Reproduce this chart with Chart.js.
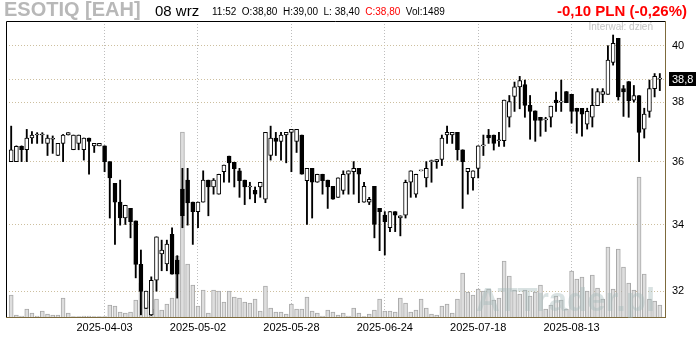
<!DOCTYPE html>
<html>
<head>
<meta charset="utf-8">
<script src="https://cdn.jsdelivr.net/npm/chart.js@4"></script>
<style>
  body { margin: 0; background: #fff; }
  #wrap { position: relative; width: 700px; height: 340px; overflow: hidden; font-family: 'Liberation Sans', Arial, sans-serif; }
  #chart { position: absolute; left: 0; top: 0; z-index: 1; }
  .txt { position: absolute; white-space: nowrap; z-index: 3; }
  #mark { position: absolute; left: 476px; top: 281px; font: bold 33px 'Liberation Sans', Arial, sans-serif; color: rgba(165, 185, 185, 0.42); z-index: 2; }
</style>
</head>
<body>
<div id="wrap">
  <canvas id="chart" width="700" height="340"></canvas>
  <div id="mark">ATTrader.pl</div>
  <div class="txt" style="left:4px; top:-2px; font-weight:bold; font-size:20px; color:#b8b8b8;">ESOTIQ [EAH]</div>
  <div class="txt" style="left:155px; top:2px; font-size:15px; color:#000;">08 wrz</div>
  <div class="txt" style="left:212px; top:6px; font-size:10px; color:#000;">11:52 &nbsp;O:38,80 &nbsp;H:39,00 &nbsp;L: 38,40 &nbsp;<span style="color:#f00">C:38,80</span> &nbsp;Vol:1489</div>
  <div class="txt" style="right:13px; top:2px; font-weight:bold; font-size:15px; color:#f00;">-0,10 PLN (-0,26%)</div>
  <div class="txt" style="right:47px; top:21px; font-size:10px; color:#c4c4c4;">Interwał: dzień</div>
</div>
<script>
// daily candles, 2025-03-10 .. 2025-09-08 (index = trading day)
const open = [
  36.00, 36.00, 36.50, 36.39, 36.78, 36.88, 36.88, 36.60, 36.74, 36.20,
  36.60, 36.88, 36.39, 36.60, 36.39, 36.78, 36.52, 36.52, 36.52, 36.00,
  35.30, 34.70, 34.20, 34.50, 34.11, 32.79, 31.50, 31.32, 32.32, 33.10,
  32.80, 33.70, 32.92, 35.11, 35.40, 34.70, 34.40, 34.70, 35.40, 35.18,
  34.95, 35.67, 36.18, 35.98, 35.70, 35.40, 35.18, 35.07, 35.18, 34.79,
  36.20, 36.78, 36.67, 36.88, 36.97, 36.67, 36.88, 35.38, 35.78, 35.33,
  35.59, 35.40, 35.20, 34.85, 35.07, 35.59, 35.67, 35.78, 34.70, 34.70,
  35.20, 34.50, 34.29, 33.90, 34.40, 34.20, 34.29, 35.33, 34.95, 35.70,
  35.47, 36.00, 36.00, 36.07, 36.88, 36.88, 36.97, 36.39, 35.67, 35.47,
  35.78, 36.52, 36.88, 36.88, 36.69, 36.69, 37.48, 38.20, 38.53, 38.61,
  37.89, 37.70, 37.48, 37.39, 37.48, 38.07, 38.00, 38.37, 38.27, 37.79,
  37.79, 37.25, 37.48, 37.88, 38.27, 38.27, 39.40, 40.27, 38.47, 38.72,
  38.07, 38.23, 37.08, 37.68, 38.47, 38.80
];
const high = [
  37.18, 36.52, 36.52, 37.07, 37.00, 36.96, 36.96, 36.88, 36.85, 36.60,
  36.90, 36.96, 36.88, 36.88, 36.78, 36.78, 36.60, 36.60, 36.52, 36.00,
  35.30, 35.40, 34.60, 34.50, 34.11, 33.22, 32.00, 32.42, 33.62, 33.52,
  33.52, 33.90, 33.05, 35.78, 35.78, 34.70, 34.70, 35.70, 35.40, 35.45,
  35.59, 35.89, 36.18, 35.98, 35.78, 35.40, 35.33, 35.18, 35.33, 36.97,
  37.18, 36.97, 36.97, 36.97, 37.07, 37.07, 36.88, 35.78, 35.78, 35.59,
  35.59, 35.40, 35.20, 35.47, 35.70, 35.70, 36.00, 35.78, 35.33, 34.85,
  35.20, 34.50, 34.40, 34.40, 34.40, 34.27, 35.40, 35.70, 35.59, 35.70,
  36.00, 36.05, 36.07, 36.88, 37.18, 36.97, 36.97, 36.39, 35.78, 35.70,
  36.52, 36.88, 37.07, 36.88, 36.97, 38.07, 38.23, 38.70, 38.90, 38.77,
  38.23, 37.70, 37.48, 37.48, 37.86, 38.35, 38.77, 38.37, 38.27, 37.79,
  37.79, 37.79, 38.47, 38.47, 38.47, 40.00, 40.39, 40.27, 38.58, 38.72,
  38.58, 38.23, 37.79, 38.77, 39.00, 39.00
];
const low = [
  36.00, 36.00, 36.00, 36.00, 36.60, 36.60, 36.60, 36.20, 36.27, 36.20,
  36.00, 36.88, 36.39, 36.39, 36.05, 35.59, 36.30, 36.52, 35.67, 34.20,
  33.39, 33.98, 34.00, 33.59, 32.39, 31.32, 31.50, 31.30, 32.00, 32.60,
  32.60, 32.50, 31.80, 33.90, 33.98, 33.39, 33.90, 34.70, 34.27, 34.95,
  34.95, 35.33, 35.33, 35.18, 34.85, 34.62, 34.80, 34.68, 34.85, 34.68,
  36.05, 36.20, 36.05, 35.96, 35.67, 36.30, 35.59, 34.00, 34.20, 35.33,
  34.95, 34.50, 34.79, 34.85, 34.95, 34.95, 34.95, 34.68, 34.70, 34.62,
  33.59, 33.20, 33.07, 33.78, 33.78, 33.65, 34.20, 34.85, 34.85, 35.70,
  35.18, 35.33, 35.78, 35.87, 36.60, 36.60, 36.05, 34.50, 34.95, 35.08,
  35.47, 36.20, 36.60, 36.38, 36.50, 36.50, 37.15, 37.68, 37.77, 37.48,
  36.74, 36.67, 36.84, 37.00, 37.15, 37.68, 37.68, 37.98, 37.28, 36.94,
  36.84, 37.08, 37.15, 37.88, 37.98, 38.27, 39.30, 38.07, 37.51, 37.48,
  38.00, 36.00, 36.78, 37.48, 38.18, 38.40
];
const close = [
  36.39, 36.50, 36.39, 36.78, 36.88, 36.88, 36.88, 36.78, 36.74, 36.60,
  36.88, 36.96, 36.88, 36.88, 36.78, 36.67, 36.60, 36.60, 36.00, 35.47,
  34.70, 34.20, 34.60, 34.09, 32.79, 31.99, 32.00, 32.32, 33.62, 33.22,
  33.40, 32.50, 32.50, 34.27, 34.67, 34.40, 34.70, 35.40, 35.18, 35.40,
  35.59, 35.89, 35.96, 35.77, 35.38, 35.18, 35.18, 34.95, 35.33, 36.97,
  36.78, 36.67, 36.88, 36.97, 37.07, 37.07, 35.59, 35.78, 35.33, 35.59,
  35.38, 35.18, 34.79, 35.47, 35.59, 35.70, 35.78, 35.59, 35.20, 34.79,
  34.00, 34.40, 34.09, 34.40, 34.29, 34.27, 35.33, 35.70, 35.59, 35.70,
  35.78, 36.00, 36.07, 36.78, 36.97, 36.97, 36.39, 36.00, 35.78, 35.70,
  36.52, 36.52, 36.78, 36.60, 36.69, 38.07, 38.02, 38.53, 38.75, 37.89,
  37.68, 37.37, 37.37, 37.39, 37.86, 37.98, 38.00, 37.98, 37.68, 37.68,
  37.59, 37.68, 37.89, 38.37, 38.37, 39.48, 40.09, 38.18, 38.35, 38.05,
  38.23, 36.97, 37.59, 38.47, 38.90, 38.80
];
const volume = [
  2730, 250, 120, 990, 500, 120, 740, 370, 250, 250,
  2360, 500, 60, 60, 120, 120, 60, 60, 60, 1490,
  1360, 620, 500, 620, 2110, 4220, 1980, 990, 2230, 870,
  1610, 2360, 7560, 22940, 6570, 3970, 1360, 3350, 500, 3350,
  3220, 1860, 3220, 2480, 2360, 1860, 1740, 2230, 740, 3840,
  1120, 620, 620, 370, 1610, 990, 990, 2480, 740, 500,
  120, 870, 620, 250, 500, 120, 1120, 500, 60, 370,
  870, 2230, 740, 740, 620, 2360, 1740, 620, 870, 2230,
  1120, 370, 250, 1360, 1610, 500, 2230, 5460, 3100, 2730,
  3470, 3220, 3470, 2110, 2360, 6940, 5080, 3350, 2850, 3350,
  2600, 3100, 3970, 990, 1490, 2600, 2110, 990, 5700, 4710,
  4960, 3220, 5210, 3600, 2230, 8680, 3470, 8430, 6200, 4220,
  3350, 17360, 5330, 2230, 1980, 1489
];
const tickIdx = [18, 36, 54, 72, 90, 108];
const tickLabels = ['2025-04-03', '2025-05-02', '2025-05-28', '2025-06-24', '2025-07-18', '2025-08-13'];
const priceTicks = [32, 34, 36, 38, 40];
const lastPrice = 38.8;

const axisFont = { family: "'Liberation Sans Narrow', 'Liberation Sans', Arial, sans-serif", size: 11 };

// top/left frame lines + last price line and tag
const framePlugin = {
  id: 'frame',
  beforeDatasetsDraw(chart) {
    const { ctx, chartArea: a } = chart;
    const py = Math.round(chart.scales.y.getPixelForValue(lastPrice)) + 0.5;
    ctx.save();
    ctx.strokeStyle = '#cdbf9f';
    ctx.setLineDash([1, 2]);
    ctx.beginPath();
    ctx.moveTo(a.left, py);
    ctx.lineTo(a.right, py);
    ctx.stroke();
    ctx.restore();
  },
  afterDraw(chart) {
    const { ctx, chartArea: a } = chart;
    ctx.save();
    ctx.strokeStyle = '#000';
    ctx.lineWidth = 1;
    ctx.beginPath();
    ctx.moveTo(a.left + 0.5, a.bottom);
    ctx.lineTo(a.left + 0.5, a.top + 0.5);
    ctx.lineTo(a.right, a.top + 0.5);
    ctx.stroke();
    const py = Math.round(chart.scales.y.getPixelForValue(lastPrice));
    ctx.fillStyle = '#000';
    ctx.fillRect(a.right + 4, py - 7, 27, 14);
    ctx.fillStyle = '#fff';
    ctx.font = "11px 'Liberation Sans Narrow', 'Liberation Sans', Arial, sans-serif";
    ctx.textBaseline = 'middle';
    ctx.fillText('38,8', a.right + 7, py + 1);
    ctx.restore();
  }
};

new Chart(document.getElementById('chart'), {
  type: 'bar',
  data: {
    datasets: [
      {
        label: 'body',
        order: 1,
        data: open.map((o, i) => ({ x: i, y: [Math.min(o, close[i]), Math.max(o, close[i])] })),
        backgroundColor: (c) => close[c.dataIndex] >= open[c.dataIndex] ? '#fff' : '#000',
        borderColor: '#000',
        borderWidth: 1,
        borderSkipped: false,
        barThickness: 4,
        minBarLength: 1,
        grouped: false,
        yAxisID: 'y'
      },
      {
        label: 'wick',
        order: 2,
        data: low.map((l, i) => ({ x: i, y: [l, high[i]] })),
        backgroundColor: '#000',
        borderWidth: 0,
        barThickness: 1.2,
        grouped: false,
        yAxisID: 'y'
      },
      {
        label: 'vol',
        order: 3,
        data: volume.map((v, i) => ({ x: i, y: v })),
        backgroundColor: '#dedede',
        borderColor: '#a8a8a8',
        borderWidth: 1,
        barThickness: 4,
        grouped: false,
        yAxisID: 'y2'
      }
    ]
  },
  options: {
    responsive: false,
    animation: false,
    devicePixelRatio: 1,
    layout: { padding: { left: 6, top: 21, right: 0, bottom: 0 } },
    plugins: { legend: { display: false }, tooltip: { enabled: false } },
    scales: {
      x: {
        type: 'linear',
        offset: false,
        min: -1,
        max: 126,
        afterBuildTicks: (s) => { s.ticks = tickIdx.map(v => ({ value: v })); },
        afterFit: (s) => { s.height = 23; },
        ticks: {
          autoSkip: false,
          maxRotation: 0,
          padding: 4,
          color: '#000',
          font: axisFont,
          callback: (v) => tickLabels[tickIdx.indexOf(v)]
        },
        grid: { color: '#bdbdbd', drawTicks: false, offset: false },
        border: { color: '#7d6a3c', dash: [1, 2] }
      },
      y: {
        type: 'logarithmic',
        position: 'right',
        min: 31.258,
        max: 40.908,
        bounds: 'data',
        afterBuildTicks: (s) => { s.ticks = priceTicks.map(v => ({ value: v })); },
        afterFit: (s) => { s.width = 35; },
        ticks: {
          autoSkip: false,
          padding: 7,
          color: '#000',
          font: axisFont,
          callback: (v) => String(v)
        },
        grid: { color: '#cdbf9f', drawTicks: false },
        border: { color: '#7d6a3c', dash: [1, 2] }
      },
      y2: {
        type: 'linear',
        display: false,
        min: 0,
        max: 36700
      }
    }
  },
  plugins: [framePlugin]
});
</script>
</body>
</html>
